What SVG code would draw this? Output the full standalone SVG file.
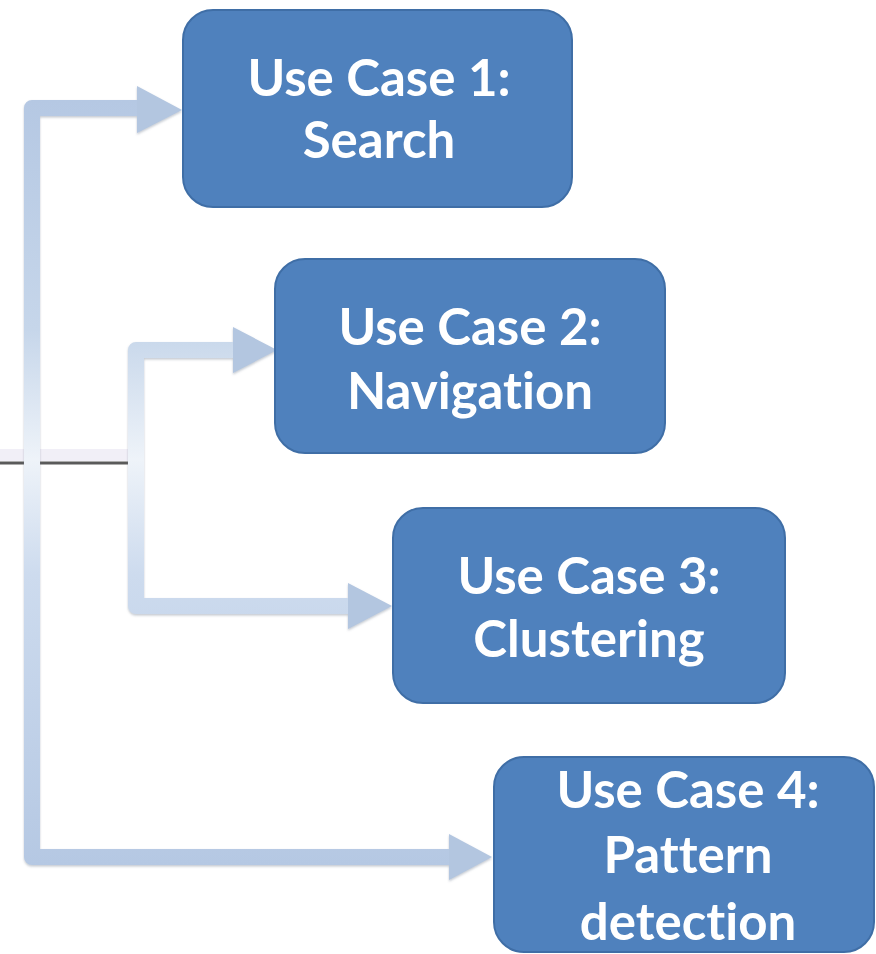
<svg xmlns="http://www.w3.org/2000/svg" width="876" height="954" viewBox="0 0 876 954">
  <defs>
    <linearGradient id="barGrad" gradientUnits="userSpaceOnUse" x1="0" y1="100" x2="0" y2="865">
      <stop offset="0" stop-color="#b5c8e3"/>
      <stop offset="0.3" stop-color="#c6d6ea"/>
      <stop offset="0.47" stop-color="#eef3f9"/>
      <stop offset="0.62" stop-color="#cddbee"/>
      <stop offset="1" stop-color="#b5c8e3"/>
    </linearGradient>
    <filter id="shadow" x="-10%" y="-10%" width="120%" height="130%">
      <feDropShadow dx="0" dy="1.5" stdDeviation="1" flood-color="#7a8797" flood-opacity="0.45"/>
    </filter>
  </defs>
  <style>
    .bar { fill: none; stroke: url(#barGrad); stroke-width: 16; stroke-linejoin: round; stroke-linecap: butt; }
    .head { fill: #b3c6e0; }
    .box { fill: #4f81bd; stroke: #3f6ea6; stroke-width: 2; }
    .label { fill: #ffffff; font-family: "Lato", "Open Sans", "Liberation Sans", sans-serif; font-weight: bold; font-size: 51px; text-anchor: middle; font-variant-ligatures: none; font-feature-settings: "liga" 0, "clig" 0; }
  </style>

  <g id="connectors">
    <rect x="0" y="449" width="136" height="12" fill="#f1eff7"/>
    <line x1="0" y1="463" x2="132" y2="463" stroke="#5a5a5a" stroke-width="3"/>
    <g filter="url(#shadow)">
      <polyline class="bar" points="32,463 32,108 140,108"/>
      <polygon class="head" points="137,86 182,110 137,133"/>
      <polyline class="bar" points="32,463 32,857 452,857"/>
      <polygon class="head" points="449,834 492,857 449,880"/>
      <polyline class="bar" points="136,463 136,350 236,350"/>
      <polygon class="head" points="233,327 277,350 233,373"/>
      <polyline class="bar" points="136,463 136,606 351,606"/>
      <polygon class="head" points="348,583 392,606 348,629"/>
    </g>
  </g>

  <g id="node1">
    <rect class="box" x="183" y="10" width="389" height="197" rx="30"/>
    <text class="label" x="379" y="96">Use Case 1:</text>
    <text class="label" x="379" y="158">Search</text>
  </g>

  <g id="node2">
    <rect class="box" x="275" y="259" width="390" height="194" rx="30"/>
    <text class="label" x="470" y="345">Use Case 2:</text>
    <text class="label" x="470" y="409">Navigation</text>
  </g>

  <g id="node3">
    <rect class="box" x="393" y="508" width="392" height="195" rx="30"/>
    <text class="label" x="589" y="594">Use Case 3:</text>
    <text class="label" x="589" y="657">Clustering</text>
  </g>

  <g id="node4">
    <rect class="box" x="494" y="757" width="380" height="195" rx="30"/>
    <text class="label" x="688" y="808">Use Case 4:</text>
    <text class="label" x="688" y="873">Pattern</text>
    <text class="label" x="688" y="940">detection</text>
  </g>
</svg>
